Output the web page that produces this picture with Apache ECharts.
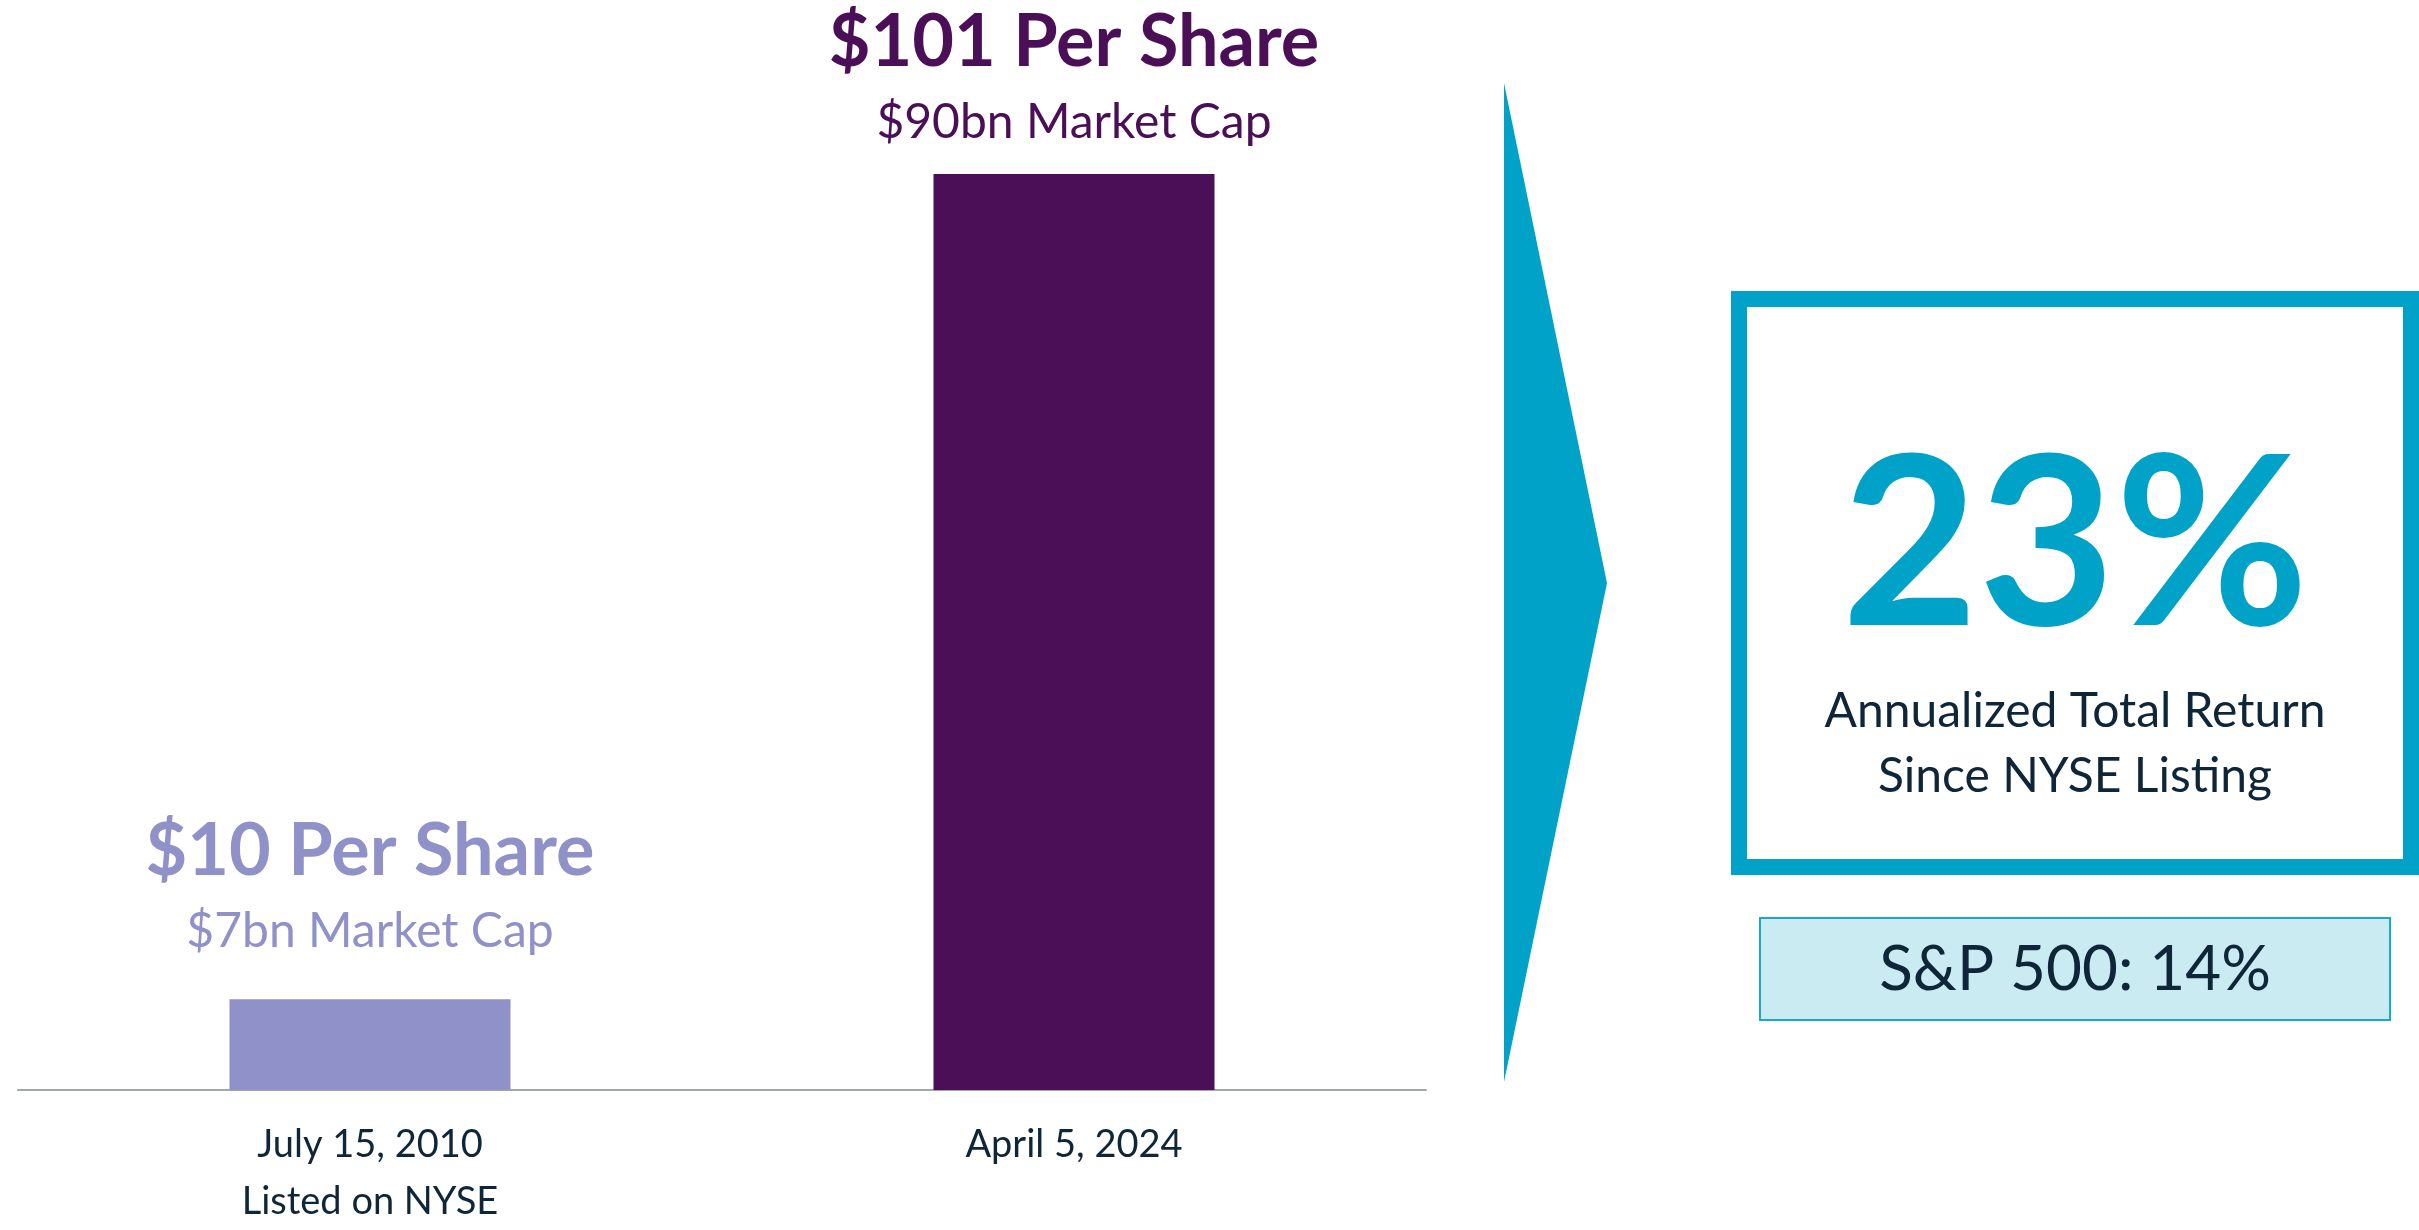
<!DOCTYPE html>
<html>
<head>
<meta charset="utf-8">
<script src="https://cdn.jsdelivr.net/npm/echarts@6/dist/echarts.min.js"></script>
<style>
html,body{margin:0;padding:0;background:#fff;}
#chart{width:2419px;height:1230px;}
</style>
</head>
<body>
<div id="chart"></div>
<script>
var categories = ['July 15, 2010\nListed on NYSE', 'April 5, 2024'];
var sharePrice = [10, 101];
var priceLabels = ['$10 Per Share', '$101 Per Share'];
var capLabels = ['$7bn Market Cap', '$90bn Market Cap'];
var barColors = ['#8F91C8', '#4A0F57'];
var returnValue = '23%';
var returnCaption = ['Annualized Total Return', 'Since NYSE Listing'];
var benchmarkText = 'S&P 500: 14%';

var FONT = 'Lato';
var TEAL = '#00A3C7';
var NAVY = '#0E2638';

var labelDistances = [28, 11];

var seriesData = sharePrice.map(function (v, i) {
  return {
    value: v,
    itemStyle: { color: barColors[i] },
    label: {
      show: true,
      position: 'top',
      distance: labelDistances[i],
      formatter: '{a|' + priceLabels[i] + '}\n{b|' + capLabels[i] + '}',
      rich: {
        a: { fontFamily: FONT, fontWeight: 'bold', fontSize: 72, lineHeight: 80, color: barColors[i], align: 'center' },
        b: { fontFamily: FONT, fontWeight: 'normal', fontSize: 48, lineHeight: 80, color: barColors[i], align: 'center' }
      }
    }
  };
});

var chart = echarts.init(document.getElementById('chart'), null, { renderer: 'canvas' });
chart.setOption({
  animation: false,
  backgroundColor: '#ffffff',
  grid: { left: 18, right: 993, top: 174, bottom: 121, containLabel: false },
  xAxis: {
    type: 'category',
    data: categories,
    axisLine: { show: true, lineStyle: { color: '#A0A8AE', width: 2 } },
    axisTick: { show: false },
    axisLabel: {
      margin: 26,
      fontFamily: FONT,
      fontSize: 38,
      lineHeight: 57,
      color: NAVY,
      verticalAlign: 'top'
    }
  },
  yAxis: {
    type: 'value',
    min: 0,
    max: 101,
    show: false
  },
  series: [{
    type: 'bar',
    barWidth: 281,
    data: seriesData
  }],
  graphic: [
    {
      type: 'polygon',
      shape: { points: [[1504, 83], [1607, 583], [1504, 1082]] },
      style: { fill: TEAL }
    },
    {
      type: 'rect',
      shape: { x: 1739, y: 299, width: 672, height: 568 },
      style: { fill: '#ffffff', stroke: TEAL, lineWidth: 16 }
    },
    {
      type: 'text',
      x: 2075, y: 549,
      style: {
        text: returnValue,
        fontFamily: FONT, fontWeight: 'bold', fontSize: 236,
        fill: TEAL, align: 'center', verticalAlign: 'middle'
      }
    },
    {
      type: 'text',
      x: 2075, y: 712,
      style: {
        text: returnCaption[0],
        fontFamily: FONT, fontSize: 48,
        fill: NAVY, align: 'center', verticalAlign: 'middle'
      }
    },
    {
      type: 'text',
      x: 2075, y: 777,
      style: {
        text: returnCaption[1],
        fontFamily: FONT, fontSize: 48,
        fill: NAVY, align: 'center', verticalAlign: 'middle'
      }
    },
    {
      type: 'rect',
      shape: { x: 1760, y: 918, width: 630, height: 102 },
      style: { fill: '#CBEBF2', stroke: '#1AA9CA', lineWidth: 2 }
    },
    {
      type: 'text',
      x: 2075, y: 970,
      style: {
        text: benchmarkText,
        fontFamily: FONT, fontSize: 62,
        fill: NAVY, align: 'center', verticalAlign: 'middle'
      }
    }
  ]
});
</script>
</body>
</html>
